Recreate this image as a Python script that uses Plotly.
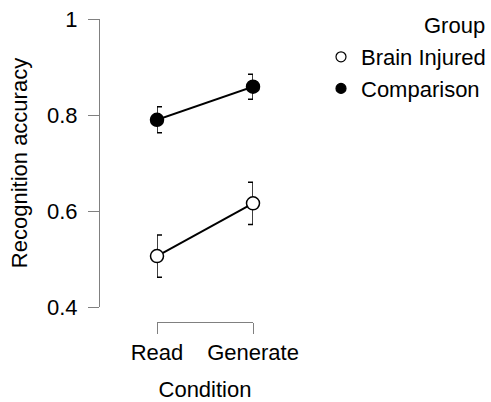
import plotly.graph_objects as go

conditions = ["Read", "Generate"]
groups = ["Brain Injured", "Comparison"]
brain_injured_mean = [0.506, 0.616]
brain_injured_se = [0.044, 0.044]
comparison_mean = [0.790, 0.859]
comparison_se = [0.027, 0.026]
y_ticks = [0.4, 0.6, 0.8, 1.0]
y_ticktext = ["0.4", "0.6", "0.8", "1"]

xpos = list(range(len(conditions)))
FONT = "Liberation Sans, Arial, sans-serif"
FS = 22

W, H = 491, 402
ml, mr, mt, mb = 99, 0, 19, 80
pw = W - ml - mr
ph = H - mt - mb

fig = go.Figure()
series = [
    (groups[0], brain_injured_mean, brain_injured_se, "white"),
    (groups[1], comparison_mean, comparison_se, "black"),
]
for name, m, se, fill in series:
    fig.add_trace(go.Scatter(
        x=xpos, y=m, mode="lines+markers", showlegend=False,
        line=dict(color="black", width=2),
        marker=dict(size=13, color=fill, line=dict(color="black", width=1.5)),
        error_y=dict(type="data", array=se, color="black", thickness=1.5, width=5),
        cliponaxis=False,
    ))
for name, m, se, fill in series:
    fig.add_trace(go.Scatter(
        x=[None], y=[None], mode="markers", name=name,
        marker=dict(size=10, color=fill, line=dict(color="black", width=1.2)),
    ))

x0 = 157 - ml
x1 = 253 - ml
fig.update_layout(
    width=W, height=H,
    margin=dict(l=ml, r=mr, t=mt, b=mb, autoexpand=False),
    paper_bgcolor="white", plot_bgcolor="rgba(0,0,0,0)",
    font=dict(family=FONT, size=FS, color="black"),
    xaxis=dict(domain=[x0 / pw, x1 / pw], range=[0, 1],
               anchor="free", position=0, automargin=False,
               showline=True, linecolor="#808080", linewidth=1,
               ticks="outside", ticklen=11, tickcolor="#808080", tickwidth=1,
               tickvals=xpos, ticktext=conditions, showgrid=False, zeroline=False,
               tickfont=dict(size=FS),
               title=dict(text="Condition", font=dict(size=FS), standoff=17)),
    yaxis=dict(domain=[(322 - 307) / ph, 1], range=[0.4, 1.0],
               anchor="free", position=0, automargin=False,
               showline=True, linecolor="#808080", linewidth=1,
               ticks="outside", ticklen=11, tickcolor="#808080", tickwidth=1,
               ticklabelstandoff=6,
               tickvals=y_ticks, ticktext=y_ticktext, showgrid=False, zeroline=False,
               tickfont=dict(size=FS),
               title=dict(text="Recognition accuracy", font=dict(size=FS), standoff=12)),
    legend=dict(x=1, xanchor="right", y=1 - (36 - mt) / ph, yanchor="top",
                font=dict(size=FS), bgcolor="rgba(0,0,0,0)", itemwidth=30,
                tracegroupgap=0),
    annotations=[dict(text="Group", x=1, xref="paper", xanchor="right", xshift=-4,
                      y=1 - (25 - mt) / ph, yref="paper", yanchor="middle",
                      showarrow=False, font=dict(size=FS))],
)
fig.write_html("out.html")
